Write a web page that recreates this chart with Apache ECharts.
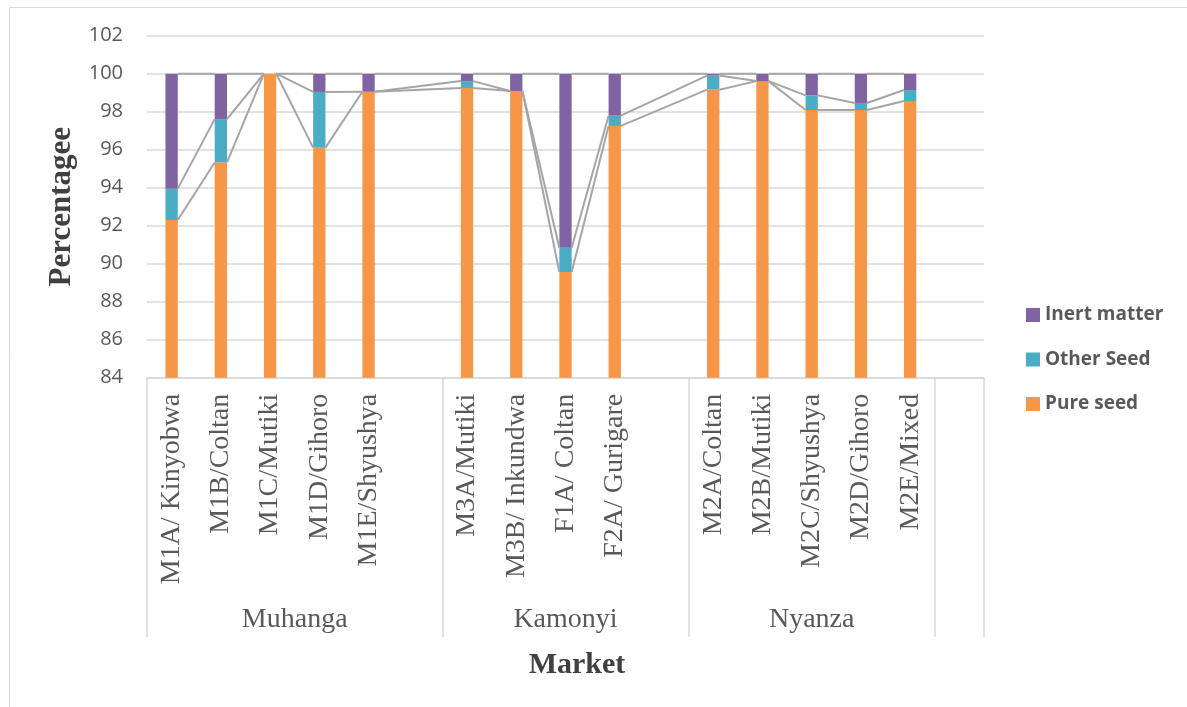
<!DOCTYPE html>
<html>
<head>
<meta charset="utf-8">
<script src="https://cdn.jsdelivr.net/npm/echarts@6/dist/echarts.min.js"></script>
<style>html,body{margin:0;padding:0;background:#fff;}#c{width:1187px;height:707px;}</style>
</head>
<body>
<div id="c"></div>
<script>
// ---- data ----
const categories = ['M1A/ Kinyobwa','M1B/Coltan','M1C/Mutiki','M1D/Gihoro','M1E/Shyushya','',
  'M3A/Mutiki','M3B/ Inkundwa','F1A/ Coltan','F2A/ Gurigare',' ',
  'M2A/Coltan','M2B/Mutiki','M2C/Shyushya','M2D/Gihoro','M2E/Mixed','  '];
const pureSeed  = [92.30, 95.33, 100, 96.11, 99.05, null, 99.25, 99.09, 89.56, 97.25, null, 99.16, 99.61, 98.09, 98.09, 98.56, null];
const otherSeed = [1.65, 2.28, 0, 2.93, 0, null, 0.36, 0, 1.28, 0.54, null, 0.74, 0, 0.77, 0.37, 0.58, null];
const inertMatter = [6.05, 2.39, 0, 0.96, 0.95, null, 0.39, 0.91, 9.16, 2.21, null, 0.10, 0.39, 1.14, 1.54, 0.86, null];
const groupNames = ['Muhanga','Kamonyi','Nyanza'];
const groupStart = [0, 6, 11];   // first category index of each group
const groupEnd   = [6, 11, 16];  // boundary after each group
const yTicks = [84, 86, 88, 90, 92, 94, 96, 98, 100, 102];

// ---- derived ----
const n = categories.length;
const cum1 = pureSeed.map(v => v);
const cum2 = pureSeed.map((v, i) => v == null ? null : v + otherSeed[i]);
const cum3 = pureSeed.map((v, i) => v == null ? null : v + otherSeed[i] + inertMatter[i]);
const seriesLineData = [];
const filled = pureSeed.map((v, i) => v != null ? i : -1).filter(i => i >= 0);
for (let k = 0; k < filled.length - 1; k++) {
  const i = filled[k], j = filled[k + 1];
  seriesLineData.push([i, j, cum1[i], cum2[i], cum3[i], cum1[j], cum2[j], cum3[j]]);
}
// half-step axis for the group level
const halfCats = [];
const boundarySet = new Set();
const labelMap = {};
for (let k = 0; k <= 2 * n; k++) halfCats.push('h' + k);
groupStart.forEach((s, g) => {
  boundarySet.add(2 * s);
  boundarySet.add(2 * groupEnd[g]);
  labelMap[s + groupEnd[g]] = groupNames[g];
});
boundarySet.add(2 * n);

const BAR_RATIO = 0.25;
const chart = echarts.init(document.getElementById('c'), null, {renderer: 'canvas'});
const gridCol = '#D9D9D9';
const txtCol = '#595959';

chart.setOption({
  animation: false,
  backgroundColor: '#fff',
  grid: {left: 147, right: 203, top: 35.7, bottom: 329.3, containLabel: false},
  legend: {
    orient: 'vertical', left: 1026, top: 305, padding: 0,
    data: ['Inert matter', 'Other Seed', 'Pure seed'],
    icon: 'rect', itemWidth: 14, itemHeight: 14, itemGap: 24.5,
    textStyle: {fontFamily: 'Open Sans', fontWeight: 'bold', fontSize: 19, lineHeight: 20, color: txtCol}
  },
  xAxis: [{
    type: 'category', data: categories, position: 'bottom',
    axisLine: {show: true, lineStyle: {color: gridCol, width: 1.5}},
    axisTick: {show: false},
    axisLabel: {interval: 0, rotate: 90, margin: 16, fontFamily: 'Liberation Serif', fontSize: 28, color: txtCol}
  }, {
    type: 'category', data: halfCats, position: 'bottom', boundaryGap: false,
    axisLine: {show: false},
    axisTick: {show: true, length: 259, interval: (k) => boundarySet.has(k), lineStyle: {color: gridCol, width: 1.5}},
    axisLabel: {interval: (k) => labelMap[k] !== undefined, formatter: (v, k) => labelMap[k] || '',
      margin: 228, fontFamily: 'Liberation Serif', fontSize: 28, color: txtCol},
    splitLine: {show: false}
  }],
  yAxis: {
    type: 'value', min: yTicks[0], max: yTicks[yTicks.length - 1], interval: yTicks[1] - yTicks[0],
    name: 'Percentagee', nameLocation: 'middle', nameRotate: 90, nameGap: 70,
    nameTextStyle: {fontFamily: 'Liberation Serif', fontWeight: 'bold', fontSize: 31, color: '#404040'},
    axisLine: {show: false}, axisTick: {show: false},
    axisLabel: {margin: 24, fontFamily: 'Open Sans', fontSize: 20, color: txtCol},
    splitLine: {lineStyle: {color: gridCol, width: 1.5}}
  },
  series: [
    {name: 'Pure seed', type: 'bar', stack: 'total', barWidth: (BAR_RATIO * 100) + '%', data: pureSeed, itemStyle: {color: '#F79646'}},
    {name: 'Other Seed', type: 'bar', stack: 'total', barWidth: (BAR_RATIO * 100) + '%', data: otherSeed, itemStyle: {color: '#4BACC6'}},
    {name: 'Inert matter', type: 'bar', stack: 'total', barWidth: (BAR_RATIO * 100) + '%', data: inertMatter, itemStyle: {color: '#8064A2'}},
    {
      name: 'series lines', type: 'custom', xAxisIndex: 0, silent: true, z: 3,
      encode: {x: [0, 1], y: [2, 3, 4, 5, 6, 7]},
      data: seriesLineData,
      renderItem: function (params, api) {
        const i = api.value(0), j = api.value(1);
        const half = api.size([1, 0])[0] * BAR_RATIO / 2;
        const children = [];
        for (let l = 0; l < 3; l++) {
          const a = api.coord([i, api.value(2 + l)]);
          const b = api.coord([j, api.value(5 + l)]);
          children.push({type: 'line', shape: {x1: a[0] + half, y1: a[1], x2: b[0] - half, y2: b[1]},
            style: {stroke: '#A5A5A5', lineWidth: 2}});
        }
        return {type: 'group', children: children};
      }
    }
  ],
  graphic: [
    {type: 'rect', shape: {x: 9.5, y: 7.5, width: 1400, height: 1000}, style: {fill: 'none', stroke: gridCol, lineWidth: 1}, z: -10},
    {type: 'text', x: 577, y: 665, style: {text: 'Market', fontFamily: 'Liberation Serif', fontWeight: 'bold', fontSize: 30,
      fill: '#404040', align: 'center', verticalAlign: 'middle'}}
  ]
});
</script>
</body>
</html>
